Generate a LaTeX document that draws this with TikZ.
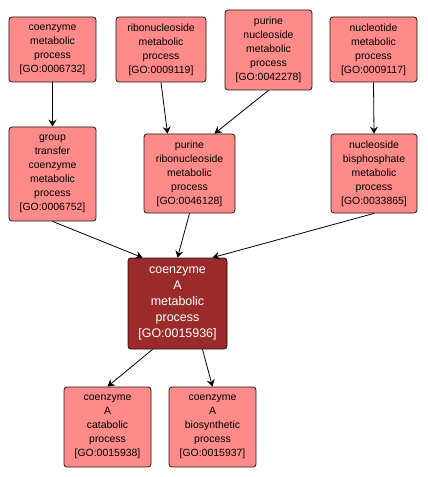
\documentclass[tikz,border=0pt]{standalone}
\usepackage{fontspec}
\setmainfont{Liberation Sans}
\usepackage{tikz}
\usetikzlibrary{arrows.meta, positioning}
\definecolor{golight}{RGB}{255,138,138}
\definecolor{godark}{RGB}{155,43,43}
\definecolor{goedge}{RGB}{30,20,20}
\tikzset{
  goterm/.style={
    rectangle, rounded corners=3pt, draw=goedge, line width=0.8pt,
    fill=golight, align=center, inner sep=1pt,
    font=\fontsize{10.5}{14}\selectfont
  },
  gofocus/.style={
    goterm, fill=godark, text=white,
    font=\fontsize{12.5}{16}\selectfont
  },
  isa/.style={-{Stealth[length=7bp,width=8bp,inset=2.5bp]}, line width=0.8pt, draw=black}
}
\begin{document}
\begin{tikzpicture}[x=1bp, y=-1bp]
\useasboundingbox (0,0) rectangle (427,477);

% -------- top row --------
\node[goterm, minimum width=87bp, minimum height=65bp] (n1) at (52.5,49.5) {coenzyme\\metabolic\\process\\{[GO:0006732]}};
\node[goterm, minimum width=90bp, minimum height=65bp] (n2) at (161,49.5) {ribonucleoside\\metabolic\\process\\{[GO:0009119]}};
\node[goterm, minimum width=87bp, minimum height=80bp] (n3) at (268.5,50) {purine\\nucleoside\\metabolic\\process\\{[GO:0042278]}};
\node[goterm, minimum width=87bp, minimum height=65bp] (n4) at (373.5,49.5) {nucleotide\\metabolic\\process\\{[GO:0009117]}};

% -------- middle row --------
\node[goterm, minimum width=87bp, minimum height=94bp] (n5) at (52.5,174) {group\\transfer\\coenzyme\\metabolic\\process\\{[GO:0006752]}};
\node[goterm, minimum width=91bp, minimum height=79bp] (n6) at (189.5,173.5) {purine\\ribonucleoside\\metabolic\\process\\{[GO:0046128]}};
\node[goterm, minimum width=86bp, minimum height=79bp] (n7) at (374,173.5) {nucleoside\\bisphosphate\\metabolic\\process\\{[GO:0033865]}};

% -------- focus term --------
\node[gofocus, minimum width=99bp, minimum height=91bp] (n8) at (177.5,303.5) {coenzyme\\A\\metabolic\\process\\{[GO:0015936]}};

% -------- children --------
\node[goterm, minimum width=87bp, minimum height=80bp] (n9) at (107.5,427) {coenzyme\\A\\catabolic\\process\\{[GO:0015938]}};
\node[goterm, minimum width=87bp, minimum height=80bp] (n10) at (212.5,427) {coenzyme\\A\\biosynthetic\\process\\{[GO:0015937]}};

\foreach \a/\b in {n1/n5,n4/n7,n6/n8}
  \draw[isa] (\a.south) -- (\b.north);

\draw[isa] (n2.south) -- ([xshift=-22bp]n6.north);
\draw[isa] (n3.south) -- ([xshift=25bp]n6.north);
\draw[isa] (n5.south) -- ([xshift=-35bp]n8.north);
\draw[isa] (n7.south) -- ([xshift=35bp]n8.north);
\draw[isa] ([xshift=-25bp]n8.south) -- (n9.north);
\draw[isa] ([xshift=25bp]n8.south) -- (n10.north);

\end{tikzpicture}
\end{document}
